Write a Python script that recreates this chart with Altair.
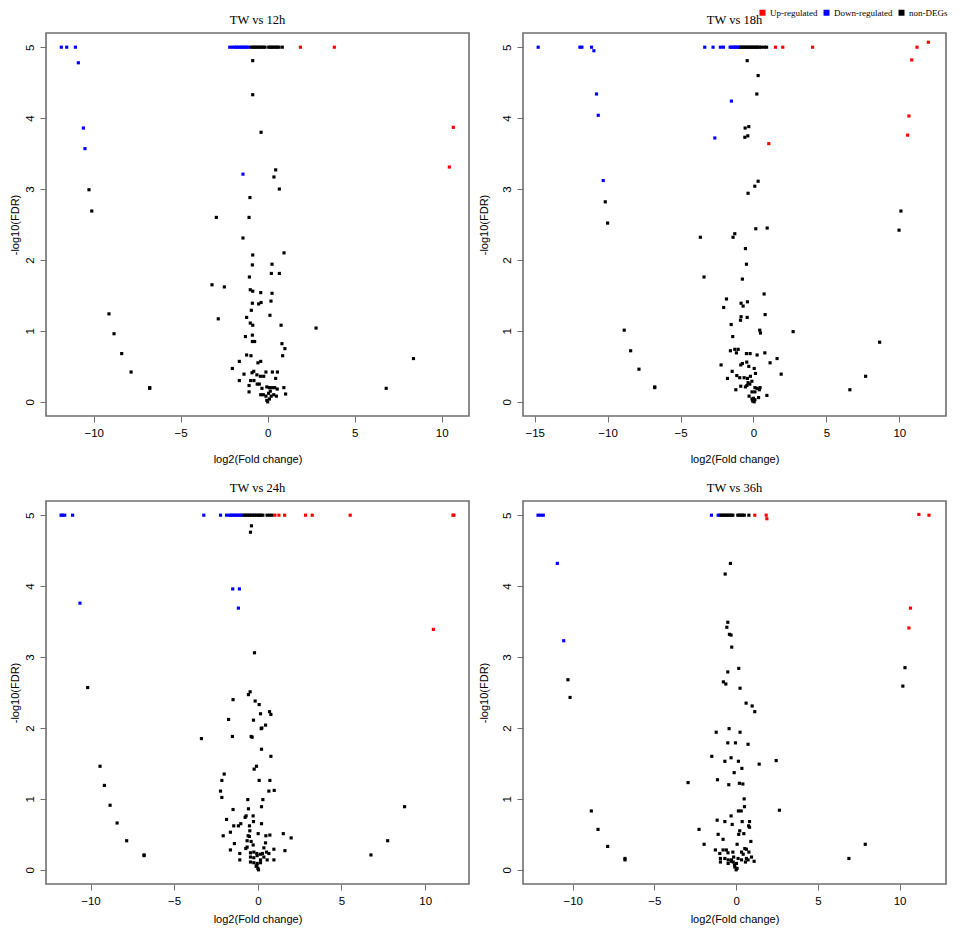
import altair as alt
import pandas as pd

classes = ["Up-regulated", "Down-regulated", "non-DEGs"]
colors = ["#ff0000", "#0000ff", "#000000"]
panels = ["12h", "18h", "24h", "36h"]
titles = ["TW vs 12h", "TW vs 18h", "TW vs 24h", "TW vs 36h"]
x_ticks = [[-10, -5, 0, 5, 10], [-15, -10, -5, 0, 5, 10], [-10, -5, 0, 5, 10], [-10, -5, 0, 5, 10]]
x_domains = [[-12.74, 11.57], [-15.8, 13.2], [-12.66, 12.62], [-13.04, 12.84]]
y_ticks = [0, 1, 2, 3, 4, 5]
y_domain = [-0.2, 5.2]

# ---- TW vs 12h ----
h12_up = [[1.88, 5], [3.83, 5], [10.67, 3.87], [10.44, 3.31]]
h12_down = [[-11.86, 5], [-11.55, 5], [-11.05, 5], [-10.88, 4.78], [-10.59, 3.86], [-10.5, 3.57],
            [-2.18, 5], [-2.03, 5], [-1.9, 5], [-1.8, 5], [-1.7, 5], [-1.6, 5], [-1.5, 5], [-1.4, 5],
            [-1.3, 5], [-1.2, 5], [-1.1, 5], [-1.42, 3.21]]
h12_non = [[-0.95, 5], [-0.85, 5], [-0.75, 5], [-0.65, 5], [-0.55, 5], [-0.45, 5], [-0.35, 5], [-0.25, 5],
           [-0.15, 5], [0.06, 5], [0.15, 5], [0.25, 5], [0.35, 5], [0.45, 5], [0.55, 5], [0.65, 5], [0.84, 5],
           [-0.86, 4.81], [-0.86, 4.33], [-0.38, 3.80], [0.46, 3.27], [0.36, 3.17], [0.67, 3.0], [-1.02, 2.88],
           [-2.95, 2.6], [-1.07, 2.6], [-10.27, 2.99], [-10.11, 2.69], [-1.42, 2.31], [-0.86, 2.07], [0.94, 2.10],
           [-0.88, 1.93], [0.25, 1.94], [-1.05, 1.76], [0.21, 1.81], [0.67, 1.81], [-3.2, 1.65], [-2.49, 1.62],
           [-1.0, 1.58], [-0.86, 1.56], [-0.40, 1.54], [0.25, 1.53], [-0.88, 1.39], [-0.52, 1.38], [-0.38, 1.40],
           [0.19, 1.42], [-9.12, 1.24], [-0.94, 1.29], [0.13, 1.22], [-1.21, 1.19], [-2.84, 1.17], [-8.83, 0.96],
           [-1.0, 1.11], [-0.86, 1.08], [0.77, 1.08], [2.78, 1.04], [-1.28, 0.92], [-0.88, 0.94], [-0.88, 0.85],
           [-0.75, 0.85], [0.82, 0.82], [0.99, 0.75], [-8.39, 0.68], [-1.21, 0.66], [-0.96, 0.65], [0.86, 0.65],
           [8.38, 0.61], [-0.56, 0.55], [-0.40, 0.57], [-1.63, 0.57], [-2.03, 0.47], [-7.85, 0.42], [-1.36, 0.39],
           [-0.9, 0.41], [-0.8, 0.43], [-0.62, 0.38], [-0.42, 0.36], [-0.23, 0.36], [-0.1, 0.42], [0.27, 0.42],
           [0.56, 0.42], [0.46, 0.33], [-1.63, 0.30], [-1.07, 0.23], [-1.07, 0.14], [-0.98, 0.3], [-0.79, 0.3],
           [-0.48, 0.25], [-6.78, 0.20], [-6.78, 0.19], [-0.33, 0.19], [-0.05, 0.21], [0.1, 0.2], [0.25, 0.2],
           [0.4, 0.2], [0.55, 0.18], [0.93, 0.2], [6.81, 0.19], [-0.4, 0.1], [-0.25, 0.1], [-0.1, 0.08],
           [0.05, 0.12], [0.2, 0.08], [0.35, 0.1], [0.5, 0.08], [-0.05, 0.02], [0.0, 0.0], [0.1, 0.04],
           [1.03, 0.11], [-0.6, 0.25], [0.15, 0.15]]

# ---- TW vs 18h ----
h18_up = [[1.51, 5], [2.01, 5], [4.05, 5], [1.05, 3.64], [11.99, 5.07], [11.21, 5.0], [10.85, 4.82],
          [10.66, 4.03], [10.57, 3.76]]
h18_down = [[-14.76, 5], [-11.9, 5], [-11.76, 5], [-11.1, 5], [-10.94, 4.95], [-10.76, 4.34], [-10.64, 4.04],
            [-10.3, 3.12], [-3.34, 5], [-2.77, 5], [-2.27, 5], [-2.06, 5], [-1.6, 5], [-1.5, 5], [-1.4, 5],
            [-1.3, 5], [-1.2, 5], [-1.1, 5], [-1.51, 4.24], [-2.65, 3.72]]
h18_non = [[-1.0, 5], [-0.9, 5], [-0.8, 5], [-0.7, 5], [-0.6, 5], [-0.5, 5], [-0.4, 5], [-0.3, 5], [-0.2, 5],
           [-0.1, 5], [0.0, 5], [0.1, 5], [0.2, 5], [0.3, 5], [0.4, 5], [0.55, 5], [0.75, 5], [0.9, 5],
           [-10.16, 2.82], [-10.0, 2.52], [-0.43, 4.81], [0.32, 4.6], [0.23, 4.34], [-0.57, 3.86], [-0.32, 3.88],
           [-0.59, 3.73], [-0.39, 3.75], [0.32, 3.11], [0.09, 3.04], [-0.37, 2.94], [0.16, 2.44], [0.94, 2.45],
           [-1.28, 2.37], [-1.4, 2.32], [-3.64, 2.32], [10.11, 2.69], [9.98, 2.42], [-0.55, 2.16], [-0.48, 1.94],
           [-3.39, 1.76], [-0.76, 1.73], [0.73, 1.52], [-1.85, 1.45], [-0.85, 1.39], [-0.41, 1.41], [-0.71, 1.35],
           [-2.04, 1.33], [0.8, 1.23], [-0.85, 1.2], [-0.43, 1.19], [-0.89, 1.15], [-1.53, 1.09], [0.43, 1.01],
           [0.48, 0.97], [2.72, 0.99], [-1.42, 0.92], [-8.86, 1.01], [-8.42, 0.72], [-7.85, 0.46], [-6.77, 0.21],
           [-6.77, 0.2], [8.65, 0.84], [7.69, 0.36], [6.61, 0.17], [-1.58, 0.72], [-1.28, 0.74], [-1.05, 0.74],
           [-1.17, 0.69], [-0.48, 0.68], [-0.23, 0.68], [0.25, 0.66], [0.78, 0.69], [1.62, 0.61], [1.14, 0.55],
           [1.9, 0.39], [-2.22, 0.52], [-0.87, 0.52], [-0.76, 0.54], [-0.46, 0.56], [-0.32, 0.5], [0.05, 0.47],
           [0.14, 0.4], [-1.46, 0.43], [-1.14, 0.37], [-0.94, 0.34], [-1.78, 0.33], [-0.64, 0.34], [-0.41, 0.33],
           [-0.21, 0.36], [-0.11, 0.29], [-0.37, 0.27], [-0.25, 0.25], [-0.55, 0.21], [-0.45, 0.23], [-0.87, 0.22],
           [-1.21, 0.17], [0.1, 0.2], [0.25, 0.19], [0.45, 0.2], [0.4, 0.17], [-0.1, 0.14], [0.1, 0.14],
           [-0.3, 0.08], [0.35, 0.06], [0.92, 0.09], [-0.1, 0.04], [0.0, 0.02], [0.05, 0.0], [-0.05, 0.01],
           [0.1, 0.03], [0.0, 0.05]]

# ---- TW vs 24h ----
h24_up = [[1.02, 5], [1.26, 5], [1.6, 5], [2.85, 5], [3.25, 5], [5.52, 5], [11.66, 5], [11.72, 5], [10.49, 3.39]]
h24_down = [[-11.76, 5], [-11.68, 5], [-11.54, 5], [-11.07, 5], [-10.63, 3.76], [-3.23, 5], [-2.23, 5],
            [-1.87, 5], [-1.7, 5], [-1.6, 5], [-1.5, 5], [-1.4, 5], [-1.3, 5], [-1.2, 5], [-1.1, 5], [-1.0, 5],
            [-1.5, 3.96], [-1.1, 3.96], [-1.16, 3.69]]
h24_non = [[-0.9, 5], [-0.8, 5], [-0.7, 5], [-0.6, 5], [-0.5, 5], [-0.4, 5], [-0.3, 5], [-0.2, 5], [-0.1, 5],
           [0.0, 5], [0.1, 5], [0.2, 5], [0.3, 5], [0.55, 5], [0.7, 5], [0.85, 5],
           [-0.38, 4.85], [-0.44, 4.76], [-0.2, 3.06], [-10.17, 2.57], [-9.43, 1.46], [-9.17, 1.19], [-8.83, 0.91],
           [-8.41, 0.66], [-7.84, 0.41], [-6.8, 0.21], [-6.8, 0.2], [6.76, 0.21], [7.76, 0.41], [8.77, 0.89],
           [-3.37, 1.85], [-0.56, 2.47], [-0.46, 2.51], [-1.48, 2.4], [-0.16, 2.38], [0.08, 2.33], [0.7, 2.23],
           [0.78, 2.19], [0.16, 2.2], [-1.75, 2.12], [-0.26, 2.11], [0.46, 2.04], [0.24, 2.0], [0.2, 1.99],
           [-1.52, 1.88], [-0.4, 1.88], [-0.34, 1.87], [0.22, 1.70], [0.78, 1.60], [-0.08, 1.46], [-0.22, 1.42],
           [-2.01, 1.35], [-2.15, 1.26], [0.08, 1.26], [0.72, 1.26], [-2.23, 1.11], [0.66, 1.11], [0.98, 1.12],
           [-2.15, 1.02], [-0.6, 0.99], [0.3, 0.99], [-1.48, 0.85], [-0.56, 0.86], [0.22, 0.89], [-0.28, 0.76],
           [-0.7, 0.76], [-0.76, 0.74], [-1.87, 0.71], [-0.26, 0.68], [-1.02, 0.65], [-1.16, 0.62], [-1.44, 0.62],
           [0.22, 0.65], [-0.5, 0.62], [-0.48, 0.55], [-0.58, 0.48], [-0.5, 0.47], [0.02, 0.51], [0.48, 0.48],
           [0.72, 0.49], [1.52, 0.51], [1.99, 0.45], [-2.07, 0.48], [-1.64, 0.53], [-1.4, 0.37], [-0.64, 0.41],
           [-0.4, 0.4], [0.46, 0.38], [-0.28, 0.35], [-0.72, 0.3], [-0.64, 0.32], [0.36, 0.31], [0.96, 0.29],
           [1.62, 0.27], [-1.64, 0.28], [-1.08, 0.23], [-1.08, 0.14], [-0.44, 0.24], [-0.24, 0.25], [-0.06, 0.23],
           [0.16, 0.22], [0.28, 0.23], [0.52, 0.25], [0.66, 0.23], [-0.44, 0.18], [-0.24, 0.17], [-0.04, 0.2],
           [0.16, 0.14], [0.36, 0.18], [0.56, 0.14], [0.96, 0.14], [-0.44, 0.11], [-0.24, 0.1], [-0.04, 0.09],
           [0.16, 0.1], [-0.1, 0.05], [0.0, 0.02], [0.04, 0.0], [-0.06, 0.06]]

# ---- TW vs 36h ----
h36_up = [[1.14, 5], [1.84, 5], [1.88, 4.95], [11.18, 5.01], [11.8, 5.0], [10.67, 3.69], [10.57, 3.41]]
h36_down = [[-12.12, 5], [-11.96, 5], [-11.8, 5], [-10.94, 4.32], [-10.55, 3.23], [-1.51, 5], [-1.1, 5]]
h36_non = [[-1.0, 5], [-0.9, 5], [-0.8, 5], [-0.7, 5], [-0.6, 5], [-0.5, 5], [-0.4, 5], [-0.3, 5], [-0.2, 5],
           [0.1, 5], [0.2, 5], [0.3, 5], [0.4, 5], [0.5, 5], [0.78, 5],
           [-10.29, 2.68], [-10.16, 2.43], [10.33, 2.85], [10.2, 2.59], [-0.35, 4.32], [-0.67, 4.17],
           [-0.51, 3.49], [-0.57, 3.42], [-0.41, 3.32], [-0.31, 3.31], [-0.27, 3.14], [0.16, 2.84], [-0.51, 2.79],
           [-0.78, 2.65], [-0.63, 2.62], [0.24, 2.56], [0.61, 2.35], [0.98, 2.31], [1.14, 2.23], [-0.43, 1.99],
           [-1.22, 1.94], [0.24, 1.94], [-0.51, 1.79], [-0.04, 1.79], [0.73, 1.77], [-1.49, 1.60], [-0.31, 1.58],
           [-0.69, 1.53], [0.14, 1.53], [2.45, 1.54], [1.41, 1.49], [0.35, 1.43], [-0.12, 1.37], [-2.94, 1.23],
           [-1.14, 1.27], [-0.45, 1.2], [0.2, 1.22], [0.41, 1.21], [0.49, 1.0], [0.51, 0.89], [0.14, 0.83],
           [0.31, 0.83], [-8.86, 0.83], [2.65, 0.84], [-8.45, 0.57], [-7.86, 0.33], [-6.8, 0.16], [-6.8, 0.14],
           [6.9, 0.16], [7.9, 0.36], [-0.31, 0.76], [-1.16, 0.7], [-0.69, 0.68], [-0.24, 0.64], [0.37, 0.68],
           [0.82, 0.68], [0.76, 0.62], [0.82, 0.6], [-2.27, 0.57], [0.22, 0.55], [0.47, 0.51], [0.16, 0.5],
           [-1.1, 0.5], [-0.8, 0.43], [0.9, 0.4], [-1.96, 0.36], [0.06, 0.36], [-1.27, 0.28], [-0.8, 0.28],
           [-0.6, 0.28], [0.53, 0.3], [0.63, 0.29], [-1.0, 0.23], [-0.5, 0.24], [-0.2, 0.25], [0.33, 0.25],
           [0.43, 0.22], [0.78, 0.25], [-0.96, 0.16], [-0.69, 0.16], [-0.49, 0.14], [-0.29, 0.14], [0.12, 0.16],
           [0.33, 0.14], [0.63, 0.16], [0.94, 0.18], [1.1, 0.12], [-0.96, 0.11], [-0.49, 0.09], [-0.18, 0.11],
           [0.02, 0.09], [0.57, 0.11], [0.73, 0.14], [-0.08, 0.04], [0.0, 0.0], [0.06, 0.02], [-0.1, 0.07],
           [-0.3, 0.12], [-0.15, 0.18]]

series = {
    "12h": (h12_up, h12_down, h12_non),
    "18h": (h18_up, h18_down, h18_non),
    "24h": (h24_up, h24_down, h24_non),
    "36h": (h36_up, h36_down, h36_non),
}

rows = []
for key, groups in series.items():
    for cls, pts in [("non-DEGs", groups[2]), ("Up-regulated", groups[0]), ("Down-regulated", groups[1])]:
        for x, y in pts:
            rows.append({"panel": key, "x": x, "y": y, "cls": cls})
df = pd.DataFrame(rows)

GRAY = "#6f6f6f"
SANS = "Liberation Sans"
SERIF = "Liberation Serif"


def panel(i, y_title_pad, x_title_pad):
    key = panels[i]
    d = df[df["panel"] == key]
    return alt.Chart(d).mark_square(size=10, opacity=1).encode(
        x=alt.X("x:Q",
                scale=alt.Scale(domain=x_domains[i], nice=False, zero=False),
                axis=alt.Axis(values=x_ticks[i], title="log2(Fold change)", titlePadding=x_title_pad,
                              labelPadding=5, tickSize=6, grid=False, domain=False)),
        y=alt.Y("y:Q",
                scale=alt.Scale(domain=y_domain, nice=False, zero=False),
                axis=alt.Axis(values=y_ticks, title="-log10(FDR)", titlePadding=y_title_pad,
                              labelPadding=5, tickSize=6, labelAngle=270, grid=False, domain=False,
                              labelAlign="center", labelBaseline="bottom")),
        color=alt.Color("cls:N",
                        scale=alt.Scale(domain=classes, range=colors),
                        legend=alt.Legend(title=None, orient="none", direction="horizontal",
                                          legendX=712, legendY=-25)),
    ).properties(
        width=423, height=383,
        title=alt.TitleParams(titles[i], font=SERIF, fontSize=12.5, fontWeight="normal",
                              offset=7, anchor="middle", color="black"),
    )


top = alt.hconcat(panel(0, 3.4, 15), panel(1, 12, 15), spacing=7)
bottom = alt.hconcat(panel(2, 3.4, 7), panel(3, 12, 7), spacing=7)

chart = alt.vconcat(top, bottom, spacing=14).properties(
    padding=0, background="white",
).configure_view(
    stroke=GRAY, strokeWidth=1.6, fill="white"
).configure_axis(
    domain=False, grid=False, tickColor=GRAY, tickWidth=1,
    labelFont=SANS, labelFontSize=11.5, labelColor="black",
    titleFont=SANS, titleFontSize=11, titleFontWeight="normal", titleColor="black",
).configure_legend(
    symbolType="square", symbolSize=36, symbolStrokeWidth=0,
    labelFont=SERIF, labelFontSize=9, labelColor="black",
    labelOffset=3, columnPadding=4, padding=0,
)

chart.save("out.html", embed_options={"renderer": "svg", "actions": False})
